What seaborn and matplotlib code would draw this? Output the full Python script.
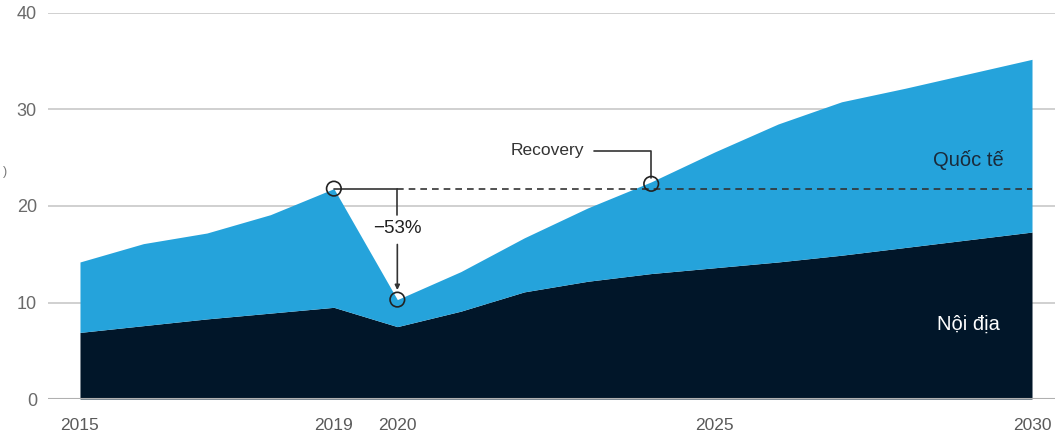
import matplotlib.pyplot as plt
import seaborn as sns
import numpy as np

nam = list(range(2015, 2031))
noi_dia = [6.9, 7.6, 8.3, 8.9, 9.5, 7.5, 9.1, 11.1, 12.2, 13.0, 13.6, 14.2, 14.9, 15.7, 16.5, 17.3]
tong = [14.2, 16.1, 17.2, 19.1, 21.8, 10.3, 13.2, 16.7, 19.8, 22.5, 25.6, 28.5, 30.8, 32.2, 33.7, 35.2]
quoc_te = [t - d for t, d in zip(tong, noi_dia)]
nhan_x = [2015, 2019, 2020, 2025, 2030]

xanh = "#25a3db"
dam = "#011629"

sns.set_style("white")
plt.rcParams['font.family'] = ['Liberation Sans', 'DejaVu Sans']

fig = plt.figure(figsize=(10.55, 4.36), dpi=100)
ax = fig.add_axes([48 / 1055, 37 / 436, 1 - 48 / 1055, 386 / 436])

# luoi ngang nam duoi vung
for y in [10, 20, 30, 40]:
    ax.axhline(y, color="#c8c8c8", lw=1.2, zorder=0)

ax.stackplot(nam, noi_dia, quoc_te, colors=[dam, xanh], zorder=1, lw=0)
ax.axhline(0, color="#b0b0b0", lw=1.5, zorder=2)

ax.set_xlim(2015 - 32 / 63.5, 2030 + 23 / 63.5)
ax.set_ylim(0, 40)
ax.set_xticks(nhan_x)
ax.set_xticks(nam, minor=True)
ax.tick_params(axis="x", which="both", length=9, width=1, color="#b0b0b0",
               labelsize=12.5, labelcolor="#5a5a5a", pad=5)
ax.set_yticks([0, 10, 20, 30, 40])
ax.tick_params(axis="y", length=0, labelsize=13, labelcolor="#6a6a6a", pad=8)
for s in ax.spines.values():
    s.set_visible(False)

# duong tham chieu dinh 2019
dinh = tong[4]
ax.plot([2019, 2020], [dinh, dinh], color="#333333", lw=1.2, zorder=3)
ax.plot([2020, 2030], [dinh, dinh], color="#333333", lw=1.2, ls=(0, (4, 3)), zorder=3)
ax.plot([2020, 2020], [dinh, 19.1], color="#333333", lw=1.2, zorder=3)
ax.annotate("", xy=(2020, tong[5] + 0.7), xytext=(2020, 16.3),
            arrowprops=dict(arrowstyle="-|>", color="#333333", lw=1.2, mutation_scale=7), zorder=3)
ax.text(2020, 17.7, "\u221253%", ha="center", va="center", fontsize=13.5, color="#222222")

# duong Recovery
ax.plot([2023.1, 2024.0, 2024.0], [25.7, 25.7, 22.9], color="#333333", lw=1.2, zorder=3)
ax.text(2022.95, 25.7, "Recovery", ha="right", va="center", fontsize=12.5, color="#333333")

ax.scatter([2019, 2020, 2024.0], [dinh, tong[5], 22.3], s=110, facecolors="none",
           edgecolors="#222222", linewidths=1.2, zorder=4)

ax.text(2029.0, 24.8, "Quốc tế", ha="center", va="center", fontsize=14.5, color="#1a2a3a")
ax.text(2029.0, 7.7, "Nội địa", ha="center", va="center", fontsize=14.5, color="white")

fig.text(3 / 1055, 1 - 172 / 436, ")", ha="left", va="center", fontsize=9, color="#777777")

fig.savefig("out.png", dpi=100)
